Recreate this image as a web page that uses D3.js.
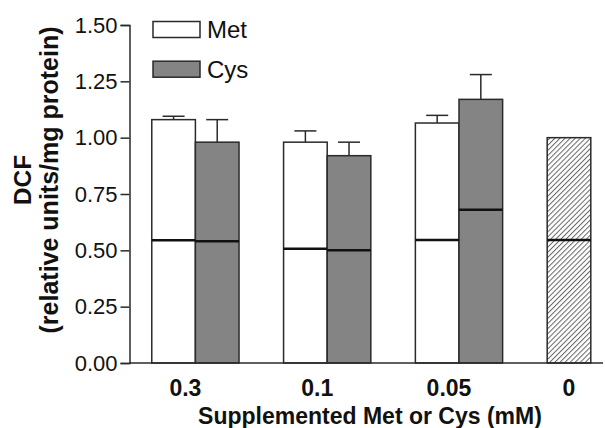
<!DOCTYPE html>
<html>
<head>
<meta charset="utf-8">
<script src="https://cdn.jsdelivr.net/npm/d3@7"></script>
<style>
  html, body { margin: 0; padding: 0; background: #fff; }
  svg { display: block; }
  text { font-family: "Liberation Sans", Arial, Helvetica, sans-serif; fill: #111; }
</style>
</head>
<body>
<svg id="chart" width="605" height="428"></svg>
<script>
// ---- data ----
const categories = ["0.3", "0.1", "0.05", "0"];
const series = ["Met", "Cys"];
const metValues = [1.08, 0.98, 1.065, null];
const metErrors = [0.015, 0.05, 0.034, null];
const metInner = [0.545, 0.507, 0.546, null];
const cysValues = [0.98, 0.92, 1.17, null];
const cysErrors = [0.10, 0.06, 0.11, null];
const cysInner = [0.54, 0.50, 0.68, null];
const controlValue = 1.00;
const controlInner = 0.546;
const yTicks = [0, 0.25, 0.5, 0.75, 1.0, 1.25, 1.5];
const xTitle = "Supplemented Met or Cys (mM)";
const yTitle1 = "DCF";
const yTitle2 = "(relative units/mg protein)";

// ---- layout ----
const svg = d3.select("#chart");
const mLeft = 129.5, mTop = 25, mBottom = 363, axisRight = 603;
const groupStep = 131.8;

const y = d3.scaleLinear().domain([0, 1.5]).range([mBottom, mTop]);
const x = d3.scaleBand().domain(categories)
  .range([mLeft, mLeft + groupStep * categories.length])
  .paddingInner(0.338).paddingOuter(0.169);
const xs = d3.scaleBand().domain(series).range([0, x.bandwidth()]).padding(0);

const defs = svg.append("defs");
const pat = defs.append("pattern").attr("id", "hatch")
  .attr("patternUnits", "userSpaceOnUse").attr("width", 3.6).attr("height", 3.6)
  .attr("patternTransform", "rotate(45)");
pat.append("rect").attr("width", 3.6).attr("height", 3.6).attr("fill", "#fff");
pat.append("line").attr("x1", 0.5).attr("y1", 0).attr("x2", 0.5).attr("y2", 3.6)
  .attr("stroke", "#666").attr("stroke-width", 1);

const strokeCol = "#2a2a2a";
const colors = { Met: "#ffffff", Cys: "#848484" };

// build bar records
const bars = [];
categories.forEach((c, i) => {
  if (metValues[i] != null) bars.push({ cat: c, s: "Met", v: metValues[i], e: metErrors[i], inner: metInner[i], fill: colors.Met });
  if (cysValues[i] != null) bars.push({ cat: c, s: "Cys", v: cysValues[i], e: cysErrors[i], inner: cysInner[i], fill: colors.Cys });
});
bars.push({ cat: "0", s: "Met", v: controlValue, e: null, inner: controlInner, fill: "url(#hatch)" });

const g = svg.append("g");
// error bars (behind)
const eb = g.selectAll("g.err").data(bars.filter(d => d.e != null)).join("g").attr("class", "err");
eb.append("line")
  .attr("x1", d => x(d.cat) + xs(d.s) + xs.bandwidth() / 2)
  .attr("x2", d => x(d.cat) + xs(d.s) + xs.bandwidth() / 2)
  .attr("y1", d => y(d.v)).attr("y2", d => y(d.v + d.e))
  .attr("stroke", strokeCol).attr("stroke-width", 1.5);
eb.append("line")
  .attr("x1", d => x(d.cat) + xs(d.s) + xs.bandwidth() / 2 - 11)
  .attr("x2", d => x(d.cat) + xs(d.s) + xs.bandwidth() / 2 + 11)
  .attr("y1", d => y(d.v + d.e)).attr("y2", d => y(d.v + d.e))
  .attr("stroke", strokeCol).attr("stroke-width", 1.5);

g.selectAll("rect.bar").data(bars).join("rect").attr("class", "bar")
  .attr("x", d => x(d.cat) + xs(d.s))
  .attr("y", d => y(d.v))
  .attr("width", xs.bandwidth())
  .attr("height", d => y(0) - y(d.v))
  .attr("fill", d => d.fill)
  .attr("stroke", strokeCol).attr("stroke-width", 1.5);

g.selectAll("line.inner").data(bars).join("line").attr("class", "inner")
  .attr("x1", d => x(d.cat) + xs(d.s))
  .attr("x2", d => x(d.cat) + xs(d.s) + xs.bandwidth())
  .attr("y1", d => y(d.inner)).attr("y2", d => y(d.inner))
  .attr("stroke", "#111").attr("stroke-width", 2.5);

// y axis
const yAxis = svg.append("g").attr("transform", `translate(${mLeft},0)`)
  .call(d3.axisLeft(y).tickValues(yTicks).tickFormat(d3.format(".2f")).tickSize(9).tickPadding(3));
yAxis.select(".domain").attr("stroke", strokeCol).attr("stroke-width", 1.5);
yAxis.selectAll(".tick line").attr("stroke", strokeCol).attr("stroke-width", 1.5);
yAxis.selectAll(".tick text").attr("font-size", 22).attr("fill", "#111")
  .attr("font-family", '"Liberation Sans", Arial, sans-serif');

// x baseline
svg.append("line").attr("x1", mLeft).attr("x2", axisRight)
  .attr("y1", y(0)).attr("y2", y(0))
  .attr("stroke", strokeCol).attr("stroke-width", 1.5);

// x labels
svg.selectAll("text.xl").data(categories).join("text").attr("class", "xl")
  .attr("x", c => {
    const i = categories.indexOf(c);
    const paired = metValues[i] != null && cysValues[i] != null;
    return paired ? x(c) + x.bandwidth() / 2 - 10 : x(c) + xs("Met") + xs.bandwidth() / 2;
  })
  .attr("y", 396).attr("text-anchor", "middle")
  .attr("font-size", 23).attr("font-weight", "bold").text(c => c);

svg.append("text").attr("x", 370).attr("y", 424).attr("text-anchor", "middle")
  .attr("font-size", 23).attr("font-weight", "bold").text(xTitle);

// y title
const yt = svg.append("g").attr("transform", "translate(0,180) rotate(-90)");
yt.append("text").attr("x", 0).attr("y", 30.5).attr("text-anchor", "middle")
  .attr("font-size", 24.5).attr("font-weight", "bold").text(yTitle1);
yt.append("text").attr("x", 0).attr("y", 58).attr("text-anchor", "middle")
  .attr("font-size", 25).attr("font-weight", "bold").text(yTitle2);

// legend
const legend = svg.append("g");
series.forEach((s, i) => {
  const ly = 21.5 + i * 39.7;
  legend.append("rect").attr("x", 153).attr("y", ly).attr("width", 47).attr("height", 16)
    .attr("fill", colors[s]).attr("stroke", strokeCol).attr("stroke-width", 1.5);
  legend.append("text").attr("x", 207).attr("y", ly + 16.5).attr("font-size", 24).text(s);
});
</script>
</body>
</html>
